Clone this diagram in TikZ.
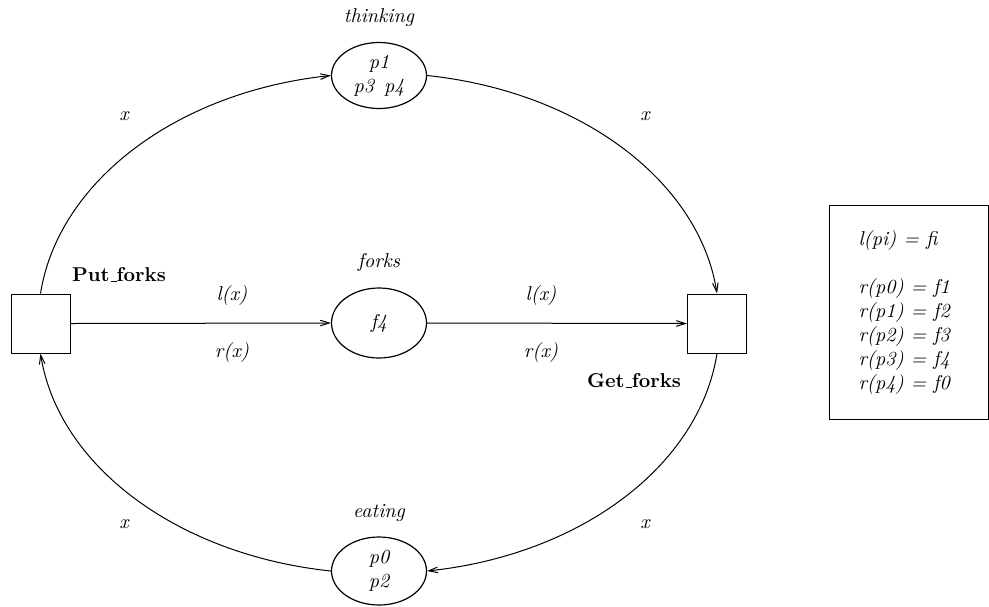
\documentclass[tikz,border=0pt]{standalone}
\usetikzlibrary{shapes.geometric,arrows.meta}
\newcommand{\ulbar}{\kern.06em\rule{.3em}{0.6pt}}
\begin{document}
\begin{tikzpicture}[x=0.5pt,y=-0.5pt,line width=0.5pt,
  place/.style={draw,ellipse,line width=0.6pt,minimum width=47.5pt,inner sep=0pt,align=center,font=\itshape},
  trans/.style={draw,rectangle,minimum size=29.5pt,inner sep=0pt},
  lab/.style={font=\itshape,inner sep=0pt},
  tlab/.style={font=\bfseries,inner sep=0pt},
  arc/.style={-{Straight Barb[length=4.5pt,width=2.8pt]}},
]
\useasboundingbox (0,0) rectangle (989,606);

% places
\node[place,minimum height=33pt] (thinking) at (379,75.5) {p1\\p3\enspace p4};
\node[place,minimum height=35pt] (forks) at (379,323) {f4};
\node[place,minimum height=34pt] (eating) at (379,571) {p0\\p2};

% transitions
\node[trans] (put) at (40.5,323.5) {};
\node[trans] (get) at (717,323.5) {};

% labels
\node[lab] (lthinking) at (379,18) {thinking};
\node[lab] (lforks) at (379,262) {forks};
\node[lab] (leating) at (379,513) {eating};
\node[tlab] (lput) at (119,275) {Put\ulbar forks};
\node[tlab] (lget) at (634,381) {Get\ulbar forks};

\node[lab] (l1) at (232,295) {l(x)};
\node[lab] (r1) at (232,352) {r(x)};
\node[lab] (l2) at (541,295) {l(x)};
\node[lab] (r2) at (541,352) {r(x)};

\node[lab] (x1) at (124,116) {x};
\node[lab] (x2) at (645,116) {x};
\node[lab] (x3) at (124,524) {x};
\node[lab] (x4) at (645,524) {x};

% arcs
\draw[arc] (put.east) -- (forks.west);
\draw[arc] (forks.east) -- (get.west);
\draw[arc] (put.north) to[out=81,in=186,out distance=57pt,in distance=77pt] (thinking.west);
\draw[arc] (thinking.east) to[out=-6,in=99,out distance=77pt,in distance=57pt] (get.north);
\draw[arc] (get.south) to[out=261,in=6,out distance=57pt,in distance=77pt] (eating.east);
\draw[arc] (eating.west) to[out=174,in=279,out distance=77pt,in distance=57pt] (put.south);

% legend
\node[draw,anchor=north west,minimum width=79.5pt,minimum height=107pt,inner sep=0pt] (legend) at (829,205) {};
\node[lab,anchor=north west,align=left] (ltext) at (858,230)
  {l(pi) = fi\\[12pt]r(p0) = f1\\r(p1) = f2\\r(p2) = f3\\r(p3) = f4\\r(p4) = f0};
\end{tikzpicture}
\end{document}
